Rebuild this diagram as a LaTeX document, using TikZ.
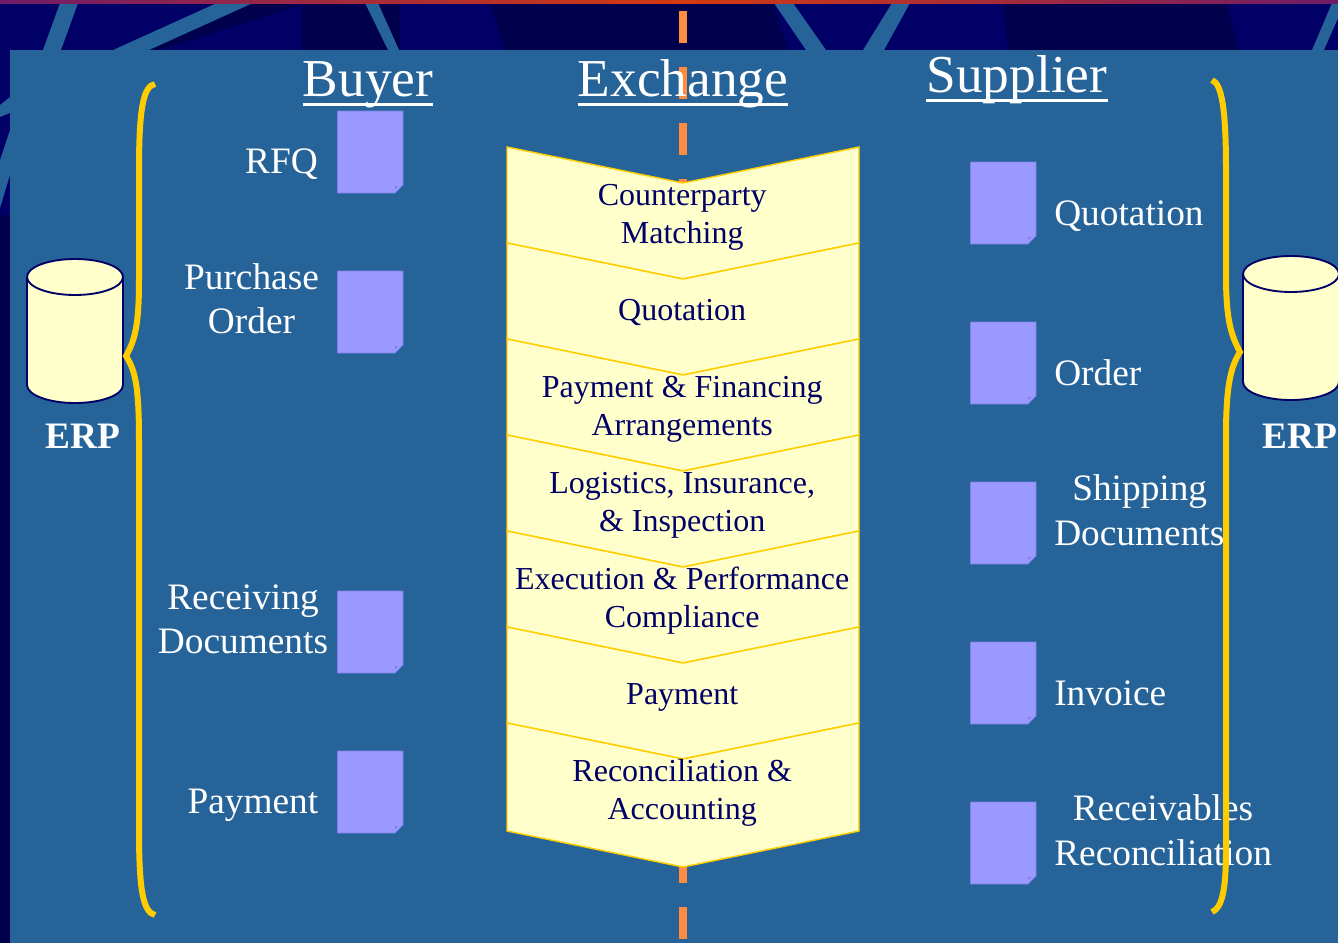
\documentclass[tikz,border=0pt]{standalone}
\usepackage{fontspec}
\setmainfont{Liberation Serif}
\definecolor{panel}{HTML}{256399}
\definecolor{navy}{HTML}{000066}
\definecolor{deepnavy}{HTML}{00004D}
\definecolor{docfill}{HTML}{9999FF}
\definecolor{docline}{HTML}{7F80E6}
\definecolor{paper}{HTML}{FFFFCC}
\definecolor{gold}{HTML}{FFCC00}
\definecolor{dash}{HTML}{FF8C40}
\definecolor{barend}{HTML}{701C68}
\definecolor{barmid}{HTML}{D43A10}
\tikzset{
  strip/.style={fill=panel,draw=none},
  shadow/.style={fill=deepnavy,draw=none},
  chev/.style={fill=paper,draw=gold,line width=1.1pt,line join=miter},
  cheving/.style={text=navy,font=\fontsize{24}{28.5}\selectfont,align=center,anchor=base,inner sep=0pt},
  title/.style={text=white,font=\fontsize{40}{48}\selectfont,anchor=base,inner sep=0pt},
  ulin/.style={draw=white,line width=2.25pt},
  lab/.style={text=white,font=\fontsize{28}{33}\selectfont,inner sep=0pt,anchor=base},
  erp/.style={text=white,font=\fontsize{28}{33}\bfseries\selectfont,inner sep=0pt,anchor=base},
  docu/.style={fill=docfill,draw=docline,line width=.5pt,line join=round},
  brace/.style={draw=gold,line width=4.5pt,line cap=butt,line join=miter,miter limit=3},
  cyl/.style={fill=paper,draw=navy,line width=1.4pt},
  ddash/.style={draw=dash,line width=6pt,dash pattern=on 24pt off 18pt}
}
\newcommand{\docat}[2]{%
  \draw[docu] (#1+0.5,#2) -- ++(65.5,0) -- ++(0,74) -- ++(-8,8) -- ++(-57.5,0) -- cycle;
  \fill[docline] (#1+58,#2+82-4) -- ++(3,-3) -- ++(-3,0) -- cycle;
}
\begin{document}
\begin{tikzpicture}[x=0.75pt,y=-0.75pt]
\useasboundingbox (0,0) rectangle (1338,943);
\begin{scope}
\clip (0,0) rectangle (1338,943);
% backdrop
\fill[navy] (0,0) rectangle (1338,943);
\fill[shadow] (302,3) -- (1227,3) -- (1238,50) -- (302,50) -- cycle;
\fill[navy] (400,3) -- (490,3) -- (505,50) -- (400,50) -- cycle;
\fill[navy] (773,3) -- (1003,3) -- (1008,50) -- (788,50) -- cycle;
\fill[shadow] (253,3) -- (300,5) -- (160,50) -- (149,50) -- cycle;
\fill[strip] (60,3) -- (78,3) -- (61,50) -- (43,50) -- cycle;
\fill[strip] (217,3) -- (253,3) -- (149,50) -- (113,50) -- cycle;
\fill[strip] (365,3) -- (378,3) -- (399,50) -- (388,50) -- cycle;
\fill[strip] (774,3) -- (793,3) -- (826,50) -- (806,50) -- cycle;
\fill[strip] (892,3) -- (910,3) -- (884,50) -- (863,50) -- cycle;
\fill[strip] (1332,3) -- (1338,3) -- (1338,18) -- (1324,50) -- (1312,50) -- cycle;
\fill[strip] (0,105) -- (10,97) -- (10,113) -- (0,117) -- cycle;
\fill[strip] (10,130) -- (0,160) -- (0,208) -- (10,175) -- cycle;
\fill[deepnavy] (0,215) rectangle (10,943);
\fill[panel] (10,50) rectangle (1338,943);
\shade[left color=barend,right color=barmid,draw=none] (0,0) rectangle (683,3);
\shade[left color=barmid,right color=barend,draw=none] (683,0) rectangle (1338,3);
% dashed axis
\coordinate (axtop) at (683,11);
\coordinate (axbot) at (683,940);
\draw[ddash] (axtop) -- (axbot);
% titles
\node[title] (buyer) at (368,96) {Buyer};
\node[title] (exch) at (683,96) {Exchange};
\node[title] (supp) at (1017,92) {Supplier};
\draw[ulin] ([yshift=-6.6pt]buyer.base west) -- ([yshift=-6.6pt]buyer.base east);
\draw[ulin] ([yshift=-6.6pt]exch.base west) -- ([yshift=-6.6pt]exch.base east);
\draw[ulin] ([yshift=-6.6pt]supp.base west) -- ([yshift=-6.6pt]supp.base east);
% chevrons
\foreach \t in {147,243,339,435,531,627}
  \draw[chev] (507,\t) -- (683,\t+36) -- (859,\t) -- (859,\t+96) -- (683,\t+132) -- (507,\t+96) -- cycle;
\draw[chev] (507,723) -- (683,759) -- (859,723) -- (859,831) -- (683,867) -- (507,831) -- cycle;
\node[cheving] (c1) at (682.2,243) {Counterparty\\Matching};
\node[cheving] (c2) at (682.2,320) {Quotation};
\node[cheving] (c3) at (682.2,435) {Payment \& Financing\\Arrangements};
\node[cheving] (c4) at (682.2,531) {Logistics, Insurance,\\\& Inspection};
\node[cheving] (c5) at (682.2,627) {Execution \& Performance\\Compliance};
\node[cheving] (c6) at (682.2,704) {Payment};
\node[cheving] (c7) at (682.2,819) {Reconciliation \&\\Accounting};
% documents
\docat{337}{111}\docat{337}{271}\docat{337}{591}\docat{337}{751}
\docat{970}{162}\docat{970}{322}\docat{970}{482}\docat{970}{642}\docat{970}{802}
% left labels
\node[lab,anchor=base east] (l1) at (318,173) {RFQ};
\node[lab,align=center] (l2) at (251.5,333) {Purchase\\Order};
\node[lab,align=center] (l3) at (243,653) {Receiving\\Documents};
\node[lab,anchor=base east] (l4) at (318.5,813) {Payment};
% right labels
\node[lab,anchor=base west] (r1) at (1054,225) {Quotation};
\node[lab,anchor=base west] (r2) at (1054,385) {Order};
\node[lab,anchor=base west] (r3a) at (1072,500) {Shipping};
\node[lab,anchor=base west] (r3b) at (1054,545) {Documents};
\node[lab,anchor=base west] (r4) at (1054,705) {Invoice};
\node[lab,anchor=base west] (r5a) at (1072.5,820) {Receivables};
\node[lab,anchor=base west] (r5b) at (1054,865) {Reconciliation};
% cylinders
\foreach \x/\y in {27/259,1243/256}{
  \draw[cyl] (\x,\y+18) -- (\x,\y+126) arc[start angle=180,end angle=0,x radius=48,y radius=18]
     -- (\x+96,\y+18) arc[start angle=0,end angle=-180,x radius=48,y radius=18] -- cycle;
  \draw[cyl] (\x,\y+18) arc[start angle=180,end angle=0,x radius=48,y radius=18];
}
\node[erp] (e1) at (83,448.5) {ERP};
\node[erp] (e2) at (1300,448.5) {ERP};
% braces
\draw[brace] (155,84) .. controls (143,86) and (139,110) .. (139,170) -- (139,280)
   .. controls (139,325) and (135,340) .. (126,356)
   .. controls (135,370) and (139,385) .. (139,440) -- (139,830)
   .. controls (139,890) and (143,912) .. (155,915);
\draw[brace] (1212,80) .. controls (1222,84) and (1226,110) .. (1226,170) -- (1226,275)
   .. controls (1226,320) and (1231,335) .. (1240,352)
   .. controls (1231,366) and (1226,385) .. (1226,435) -- (1226,850)
   .. controls (1226,890) and (1222,908) .. (1212,912);
\end{scope}
\end{tikzpicture}
\end{document}
